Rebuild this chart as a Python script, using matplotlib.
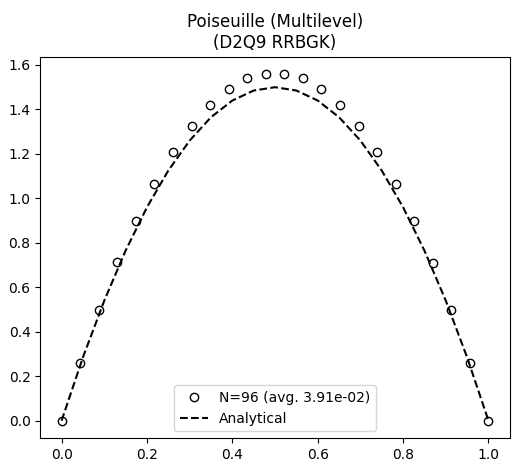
import matplotlib
matplotlib.use("Agg")
import matplotlib.pyplot as plt

x_pts = [i/23 for i in range(24)]
y_pts = [0.0, 0.26, 0.50, 0.715, 0.90, 1.065, 1.21, 1.325, 1.42, 1.49, 1.54, 1.56,
         1.56, 1.54, 1.49, 1.42, 1.325, 1.21, 1.065, 0.90, 0.71, 0.50, 0.26, 0.0]
x_an = [0.0, 0.05, 0.1, 0.15, 0.2, 0.25, 0.3, 0.35, 0.4, 0.45, 0.5,
        0.55, 0.6, 0.65, 0.7, 0.75, 0.8, 0.85, 0.9, 0.95, 1.0]
y_an = [0.0, 0.285, 0.54, 0.765, 0.96, 1.125, 1.26, 1.365, 1.44, 1.485, 1.5,
        1.485, 1.44, 1.365, 1.26, 1.125, 0.96, 0.765, 0.54, 0.285, 0.0]

fig, ax = plt.subplots(figsize=(5.16, 4.71), dpi=100)
ax.plot(x_pts, y_pts, 'o', mfc='none', mec='black', label='N=96 (avg. 3.91e-02)')
ax.plot(x_an, y_an, 'k--', label='Analytical')
ax.set_title('Poiseuille (Multilevel)\n(D2Q9 RRBGK)')
ax.legend(loc='lower center')
fig.subplots_adjust(left=0.078, right=0.988, top=0.88, bottom=0.07)
fig.savefig('out.png')
